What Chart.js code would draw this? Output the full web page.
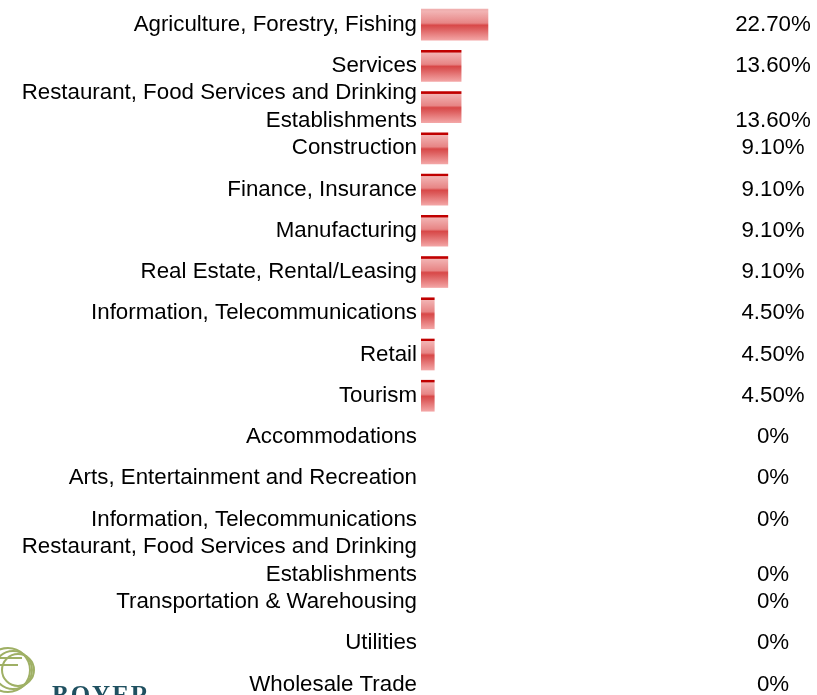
<!DOCTYPE html>
<html>
<head>
<meta charset="utf-8">
<script src="https://cdn.jsdelivr.net/npm/chart.js@4"></script>
<style>
  html, body { margin: 0; padding: 0; background: #fff; overflow: hidden; }
  #wrap { position: relative; width: 817px; height: 712px; }
</style>
</head>
<body>
<div id="wrap"><canvas id="industryChart"></canvas></div>
<script>
const industries = [
  'Agriculture, Forestry, Fishing',
  'Services',
  ['Restaurant, Food Services and Drinking', 'Establishments'],
  'Construction',
  'Finance, Insurance',
  'Manufacturing',
  'Real Estate, Rental/Leasing',
  'Information, Telecommunications',
  'Retail',
  'Tourism',
  'Accommodations',
  'Arts, Entertainment and Recreation',
  'Information, Telecommunications',
  ['Restaurant, Food Services and Drinking', 'Establishments'],
  'Transportation & Warehousing',
  'Utilities',
  'Wholesale Trade',
];
const shares = [22.7, 13.6, 13.6, 9.1, 9.1, 9.1, 9.1, 4.5, 4.5, 4.5, 0, 0, 0, 0, 0, 0, 0];

const FONT = "'Liberation Sans', Arial, sans-serif";
const FONT_SIZE = 22.3;
const LINE_GAP = 28;
const BAR_H = 31;

function barFill(ctx) {
  const chart = ctx.chart;
  const y = chart.scales.y;
  if (ctx.dataIndex === undefined) return '#e06666';
  if (shares[ctx.dataIndex] === 0) return 'rgba(0,0,0,0)';
  if (!chart.chartArea || !y) return '#e06666';
  const cy = y.getPixelForValue(ctx.dataIndex);
  const top = cy - BAR_H / 2;
  const g = chart.ctx.createLinearGradient(0, top, 0, top + BAR_H);
  const edge = ctx.dataIndex === 0 ? '#f0b0b0' : '#c00000';
  g.addColorStop(0, edge);
  g.addColorStop(0.06, edge);
  g.addColorStop(0.08, '#f2b3b3');
  g.addColorStop(0.45, '#e78585');
  g.addColorStop(0.52, '#d84848');
  g.addColorStop(0.62, '#dc5a5a');
  g.addColorStop(1, '#f3a5a5');
  return g;
}

// value column on the right, aligned with the last line of each label
const valueColumn = {
  id: 'valueColumn',
  afterDatasetsDraw(chart) {
    const { ctx, scales: { y } } = chart;
    ctx.save();
    ctx.font = FONT_SIZE + 'px ' + FONT;
    ctx.fillStyle = '#000';
    ctx.textAlign = 'center';
    ctx.textBaseline = 'middle';
    shares.forEach((v, i) => {
      const lines = Array.isArray(industries[i]) ? industries[i].length : 1;
      const cy = y.getPixelForValue(i) + (lines - 1) * LINE_GAP / 2;
      ctx.fillText(v === 0 ? '0%' : v.toFixed(2) + '%', 773, cy);
    });
    ctx.restore();
  }
};

// company mark in the lower left corner
const logo = {
  id: 'logo',
  afterDraw(chart) {
    const ctx = chart.ctx;
    ctx.save();
    ctx.strokeStyle = '#9fb065';
    ctx.lineWidth = 2;
    for (let k = 0; k < 3; k++) {
      ctx.beginPath();
      ctx.arc(8 + k * 5, 670, 22 - k * 3, 0, Math.PI * 2);
      ctx.stroke();
    }
    ctx.beginPath();
    ctx.moveTo(0, 658); ctx.lineTo(22, 658);
    ctx.moveTo(0, 665); ctx.lineTo(18, 665);
    ctx.stroke();
    ctx.fillStyle = '#1f5060';
    ctx.font = "bold 25px 'Liberation Serif', 'DejaVu Serif', serif";
    ctx.textAlign = 'left';
    ctx.textBaseline = 'alphabetic';
    ctx.letterSpacing = '2px';
    ctx.fillText('BOYER', 52, 703);
    ctx.restore();
  }
};

new Chart(document.getElementById('industryChart'), {
  type: 'bar',
  data: {
    labels: industries,
    datasets: [{
      data: shares,
      backgroundColor: barFill,
      borderWidth: 0,
      barThickness: BAR_H,
    }],
  },
  options: {
    indexAxis: 'y',
    responsive: true,
    maintainAspectRatio: false,
    animation: false,
    layout: { padding: { top: 4, bottom: 7, left: 0, right: 101 } },
    plugins: { legend: { display: false }, tooltip: { enabled: false } },
    scales: {
      x: {
        min: 0,
        max: 100,
        display: false,
      },
      y: {
        afterFit: s => {
          s.width = 421;
          s.paddingTop = 0;
          s.paddingBottom = 0;
        },
        grid: { display: false, drawTicks: false },
        border: { display: false },
        ticks: {
          autoSkip: false,
          padding: 4,
          color: '#000',
          font: { family: FONT, size: FONT_SIZE, lineHeight: LINE_GAP / FONT_SIZE },
        },
      },
    },
  },
  plugins: [valueColumn, logo],
});
</script>
</body>
</html>
